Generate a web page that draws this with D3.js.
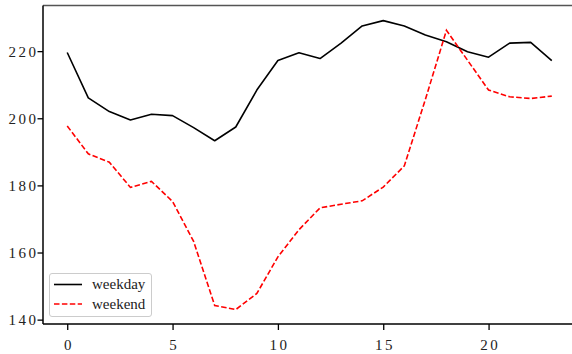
<!DOCTYPE html>
<html><head><meta charset="utf-8">
<script src="https://cdn.jsdelivr.net/npm/d3@7"></script>
<style>body{margin:0;background:#fff}svg{display:block}</style>
</head><body><svg id="c" width="572" height="354"></svg>
<script>
const hours = d3.range(24);
const weekday = [219.6,206.1,202.0,199.5,201.2,200.8,197.2,193.3,197.4,208.4,217.2,219.5,217.8,222.4,227.5,229.1,227.5,224.8,222.8,219.8,218.2,222.4,222.6,217.2];
const weekend = [197.7,189.4,186.9,179.4,181.2,175.2,163.3,144.2,143.0,147.8,158.7,166.8,173.3,174.4,175.4,179.5,185.8,205.6,226.2,217.3,208.4,206.4,205.9,206.6];
const xTicks = [0,5,10,15,20];
const yTicks = [140,160,180,200,220];
const seriesNames = ["weekday","weekend"];

const svg = d3.select("#c");
const L=43, R=576, T=5.5, B=324;
const x = d3.scaleLinear().domain([-1.15,24.15]).range([L,R]);
const y = d3.scaleLinear().domain([138.7,233.6]).range([B,T]);
const font = "'Liberation Serif','DejaVu Serif',serif";

const line = d3.line().x((d,i)=>x(hours[i])).y(d=>y(d));
svg.append("path").datum(weekday).attr("d",line).attr("fill","none")
  .attr("stroke","#000").attr("stroke-width",1.6).attr("stroke-linejoin","round");
svg.append("path").datum(weekend).attr("d",line).attr("fill","none")
  .attr("stroke","#ff0000").attr("stroke-width",1.6).attr("stroke-dasharray","5.5,2.4");

// spines
svg.append("line").attr("x1",L).attr("x2",572).attr("y1",T).attr("y2",T).attr("stroke","#555").attr("stroke-width",1.5);
const gx = svg.append("g").attr("transform",`translate(0,${B})`)
  .call(d3.axisBottom(x).tickValues(xTicks).tickSize(6).tickPadding(0).tickFormat(d3.format("d")));
const gy = svg.append("g").attr("transform",`translate(${L},0)`)
  .call(d3.axisLeft(y).tickValues(yTicks).tickSize(5.5).tickPadding(-1).tickFormat(d3.format("d")));
[gx,gy].forEach(g=>{
  g.select(".domain").remove();
  g.selectAll(".tick line").attr("stroke","#000").attr("stroke-width",1.3);
  g.selectAll(".tick text").attr("font-family",font).attr("font-size",15)
    .attr("letter-spacing","2.5px").attr("fill","#222");
});
gx.selectAll(".tick text").attr("dy",null).attr("y",26).attr("dx",1.2);
gy.selectAll(".tick text").attr("dy","0.34em");
svg.append("line").attr("x1",L).attr("x2",572).attr("y1",B).attr("y2",B).attr("stroke","#000").attr("stroke-width",1.5);
svg.append("line").attr("x1",L).attr("x2",L).attr("y1",T).attr("y2",B).attr("stroke","#000").attr("stroke-width",1.5);

// legend
const lg = svg.append("g");
lg.append("rect").attr("x",49.5).attr("y",273.5).attr("width",102).attr("height",43).attr("rx",2.5)
  .attr("fill","#fff").attr("fill-opacity",0.8).attr("stroke","#ccc").attr("stroke-width",1);
const styles=[{c:"#000",d:null},{c:"#ff0000",d:"5.5,2.4"}];
seriesNames.forEach((n,i)=>{
  const yy = 284.5 + i*19.5;
  lg.append("line").attr("x1",54).attr("x2",82).attr("y1",yy).attr("y2",yy)
    .attr("stroke",styles[i].c).attr("stroke-width",1.6).attr("stroke-dasharray",styles[i].d);
  lg.append("text").attr("x",92).attr("y",yy+4.5).text(n)
    .attr("font-family",font).attr("font-size",15).attr("fill","#222");
});
</script></body></html>
